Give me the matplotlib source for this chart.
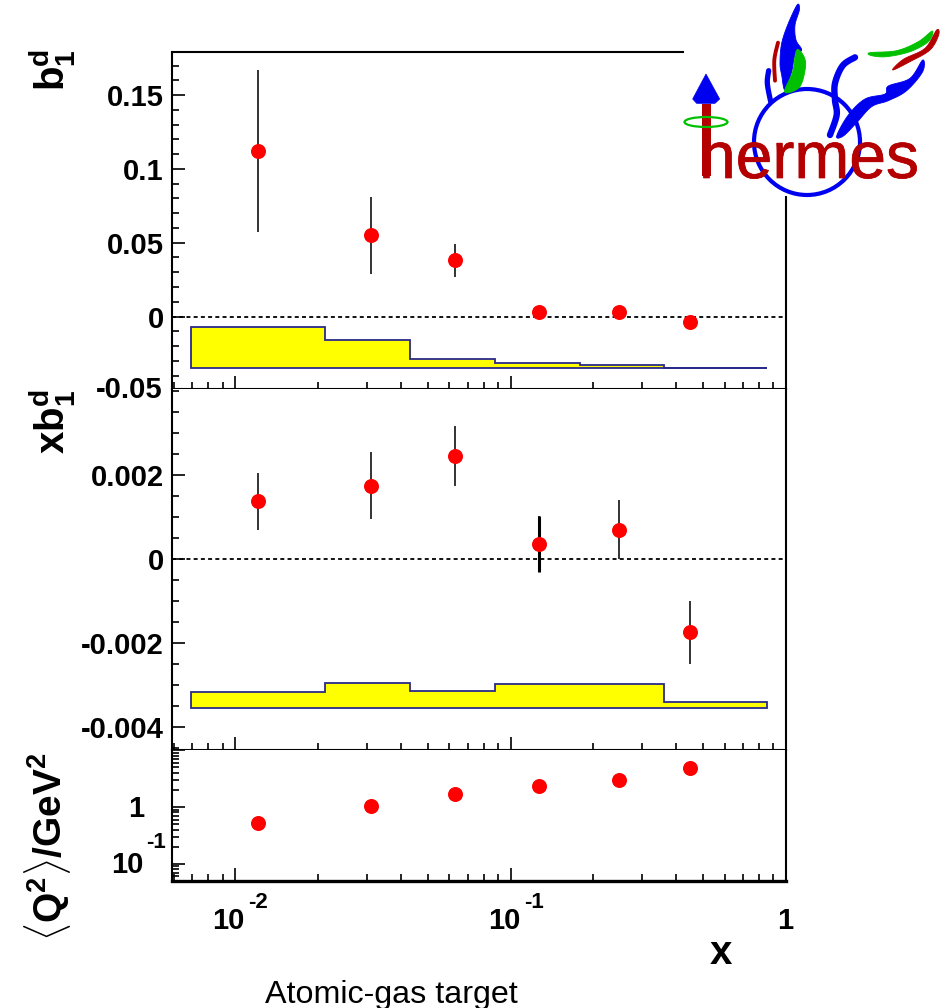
import numpy as np
import matplotlib
matplotlib.use("Agg")
import matplotlib.pyplot as plt
import matplotlib.patheffects as pe
from matplotlib.patches import Circle, Ellipse, Rectangle, Polygon
from matplotlib.ticker import FixedLocator, NullFormatter, FixedFormatter, LogLocator

plt.rcParams['font.family'] = ['Liberation Sans', 'DejaVu Sans']
plt.rcParams['font.weight'] = 'bold'
plt.rcParams['mathtext.fontset'] = 'custom'
plt.rcParams['mathtext.rm'] = 'Liberation Sans:bold'
plt.rcParams['mathtext.bf'] = 'Liberation Sans:bold'
plt.rcParams['mathtext.it'] = 'Liberation Sans:bold'

x_vals = [0.0121, 0.0312, 0.0629, 0.1268, 0.2477, 0.448]
b1 = [0.112, 0.055, 0.038, 0.0028, 0.0028, -0.0035]
b1_err = [0.055, 0.026, 0.011, 0.003, 0.003, 0.003]
xb1 = [0.00137, 0.00175, 0.00245, 0.00035, 0.0007, -0.00175]
xb1_err = [0.00067, 0.0008, 0.00072, 0.00067, 0.0007, 0.00075]
q2 = [0.514, 1.02, 1.66, 2.29, 3.03, 4.74]
bin_edges = [0.0069, 0.0212, 0.043, 0.0875, 0.178, 0.36, 0.855]
b1_band_top = [-0.0072, -0.016, -0.0285, -0.0312, -0.0328, -0.035]
b1_band_base = -0.0352
xb1_band_top = [-0.00317, -0.00296, -0.00314, -0.00298, -0.00298, -0.0034]
xb1_band_base = -0.00355

W, H = 948, 1008
fig = plt.figure(figsize=(W/100, H/100), dpi=100, facecolor='white')

def panel(top, bottom, left=172, right=786):
    return fig.add_axes([left/W, 1-bottom/H, (right-left)/W, (bottom-top)/H])

ax1 = panel(52, 389)
ax2 = panel(389, 750)
ax3 = panel(750, 881)

FS = 21
for ax in (ax1, ax2, ax3):
    ax.set_xscale('log')
    ax.set_xlim(0.0059, 1)
    ax.spines['top'].set_visible(ax is ax1)
    for s in ax.spines.values():
        s.set_linewidth(1.5)
    ax.tick_params(axis='x', which='major', direction='in', length=9.5, width=1.2, top=False)
    ax.tick_params(axis='x', which='minor', direction='in', length=5, width=1.2, top=False)
    ax.tick_params(axis='y', which='major', direction='in', length=9.5, width=1.2, right=False, labelsize=FS, pad=6)
    ax.tick_params(axis='y', which='minor', direction='in', length=5, width=1.2, right=False)
    ax.xaxis.set_major_locator(FixedLocator([0.01, 0.1, 1]))
    ax.xaxis.set_major_formatter(FixedFormatter(['', '', '']))
    ax.xaxis.set_minor_locator(LogLocator(base=10, subs=np.arange(2, 10), numticks=20))
    ax.xaxis.set_minor_formatter(NullFormatter())
ax3.spines['bottom'].set_linewidth(2.4)

def band(ax, top, base):
    xs, ys = [bin_edges[0]], [base]
    for i, t in enumerate(top):
        xs += [bin_edges[i], bin_edges[i+1]]
        ys += [t, t]
    xs.append(bin_edges[-1]); ys.append(base)
    ax.fill(xs, ys, facecolor='#ffff00', edgecolor='#2a2a8c', linewidth=1.3, zorder=2)

def points(ax, vals, errs):
    ax.errorbar(x_vals, vals, yerr=errs, fmt='none', ecolor='#111111', elinewidth=1.2, capsize=0, zorder=3)
    ax.plot(x_vals, vals, 'o', color='#ff0000', ms=10.8, mec='none', zorder=4)

# top panel
ax1.set_ylim(-0.0491, 0.1792)
ax1.yaxis.set_major_locator(FixedLocator([0, 0.05, 0.1, 0.15]))
ax1.yaxis.set_major_formatter(FixedFormatter(['0', '0.05', '0.1', '0.15']))
ax1.yaxis.set_minor_locator(FixedLocator(np.arange(-0.04, 0.18, 0.01)))
ax1.axhline(0, color='black', lw=1.3, ls=(0, (2.2, 1.8)), zorder=1)
band(ax1, b1_band_top, b1_band_base)
points(ax1, b1, b1_err)

# middle panel
ax2.set_ylim(-0.00455, 0.00405)
ax2.yaxis.set_major_locator(FixedLocator([-0.004, -0.002, 0, 0.002]))
ax2.yaxis.set_major_formatter(FixedFormatter(['-0.004', '-0.002', '0', '0.002']))
ax2.yaxis.set_minor_locator(FixedLocator(np.arange(-0.0045, 0.0041, 0.0005)))
ax2.axhline(0, color='black', lw=1.3, ls=(0, (2.2, 1.8)), zorder=1)
band(ax2, xb1_band_top, xb1_band_base)
points(ax2, xb1, xb1_err)
ax2.errorbar([x_vals[3]], [xb1[3]], yerr=[xb1_err[3]], fmt='none', ecolor='black', elinewidth=2.2, zorder=3)

# bottom panel
ax3.set_yscale('log')
ax3.set_ylim(0.05, 10)
ax3.plot(x_vals, q2, 'o', color='#ff0000', ms=10.8, mec='none', zorder=4)
ax3.yaxis.set_major_locator(FixedLocator([0.1, 1, 10]))
ax3.yaxis.set_major_formatter(FixedFormatter(['', '', '']))
ax3.yaxis.set_minor_locator(LogLocator(base=10, subs=np.arange(2, 10), numticks=20))
ax3.yaxis.set_minor_formatter(NullFormatter())

# overlay in pixel coordinates for labels and logo
ov = fig.add_axes([0, 0, 1, 1], facecolor='none', zorder=10)
ov.set_xlim(0, W); ov.set_ylim(H, 0); ov.axis('off')

def T(x, y, s, fs=FS, **kw):
    kw.setdefault('ha', 'center'); kw.setdefault('va', 'center')
    return ov.text(x, y, s, fontsize=fs, **kw)

T(163, 390, '-0.05', ha='right')
T(144, 809, '1', ha='right')
T(144, 865, '10', ha='right')
T(166, 842, '-1', fs=16, ha='right')
T(228, 921, '10'); T(258, 903, '-2', fs=16)
T(504, 921, '10'); T(534, 903, '-1', fs=16)
T(785, 921, '1')
T(721, 953, 'x', fs=29)
T(391, 995, 'Atomic-gas target', fs=23.2, fontweight='normal')

# axis titles
T(52, 49, r'$\mathbf{b}_{\mathbf{1}}^{\mathbf{d}}$', fs=29, rotation=90, va='top')
T(52, 389, r'$\mathbf{xb}_{\mathbf{1}}^{\mathbf{d}}$', fs=29, rotation=90, va='top')
T(48, 752, r'$\langle\mathbf{Q}^{\mathbf{2}}\rangle\mathbf{/GeV}^{\mathbf{2}}$', fs=28, rotation=90, va='top')

# ---- HERMES logo (decoration, in pixels) ----
def Z(pts):
    return [(680 + a/3, b/3) for a, b in pts]

def smooth(pts, closed=False, n=12):
    p = np.array(pts, float)
    if closed:
        q = np.vstack([p[-1], p, p[0], p[1]])
    else:
        q = np.vstack([p[0], p, p[-1]])
    out = []
    for i in range(1, len(q)-2):
        p0, p1, p2, p3 = q[i-1], q[i], q[i+1], q[i+2]
        for t in np.linspace(0, 1, n, endpoint=False):
            out.append(0.5*((2*p1) + (-p0+p2)*t + (2*p0-5*p1+4*p2-p3)*t**2 + (-p0+3*p1-3*p2+p3)*t**3))
    if not closed:
        out.append(q[-2])
    return np.array(out)

def blob(pts, color, z=12):
    ov.add_patch(Polygon(smooth(Z(pts), closed=True), closed=True, facecolor=color, edgecolor=color, lw=0.6, zorder=z))

def stroke(pts, color, lw, z=12):
    s = smooth(Z(pts))
    ov.plot(s[:, 0], s[:, 1], color=color, lw=lw, solid_capstyle='round', zorder=z)

BLUE, RED, GREEN = '#0000f0', '#b40000', '#00c000'
ov.add_patch(Rectangle((684, 30), 264, 166, facecolor='white', edgecolor='none', zorder=11))
ov.add_patch(Circle((807, 142), 53, facecolor='none', edgecolor=BLUE, lw=3, zorder=12))
# arrow
ov.add_patch(Rectangle((702, 104), 9, 72, facecolor=RED, edgecolor='none', zorder=12))
ov.add_patch(Polygon(Z([(78, 222), (38, 297), (50, 310), (105, 310), (119, 297)]), closed=True, facecolor=BLUE, edgecolor=BLUE, lw=0.5, zorder=13))
ov.add_patch(Ellipse((706, 122), 43, 10, facecolor='none', edgecolor=GREEN, lw=1.6, zorder=13))
# left wing
blob([(352, 14), (358, 30), (345, 75), (348, 120), (365, 150), (345, 165), (335, 215), (315, 270), (305, 225), (300, 190), (305, 130), (325, 70)], BLUE)
blob([(350, 150), (372, 170), (376, 205), (358, 262), (314, 276), (338, 215)], GREEN, z=13)
stroke([(272, 305), (262, 250), (266, 212)], BLUE, 3.8)
stroke([(294, 128), (283, 180), (285, 242)], RED, 2.8)
# right wing
stroke([(525, 172), (488, 197), (465, 250), (465, 300), (470, 345), (450, 405)], BLUE, 4.6)
blob([(470, 408), (505, 345), (555, 297), (615, 282), (625, 258), (690, 235), (728, 180), (728, 215), (680, 272), (625, 302), (575, 320), (530, 368), (490, 408)], BLUE)
blob([(570, 158), (650, 152), (715, 125), (757, 93), (745, 125), (690, 155), (620, 170), (575, 167)], GREEN)
blob([(638, 210), (670, 178), (735, 145), (770, 90), (776, 105), (750, 150), (690, 185)], RED)
# word
t = ov.text(699, 178, 'hermes', fontsize=47.5, color=RED, ha='left', va='baseline', zorder=14, fontweight='normal')
t.set_path_effects([pe.withStroke(linewidth=0.5, foreground=RED)])

fig.savefig('out.png', dpi=100)
